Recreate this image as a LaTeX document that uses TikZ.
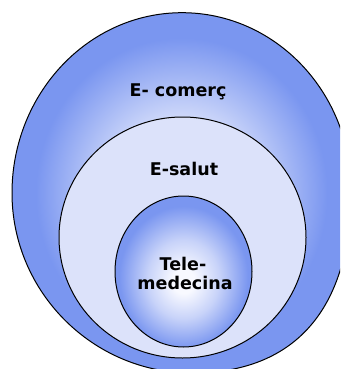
\documentclass[tikz,border=0pt]{standalone}
\usepackage{fontspec}
\setmainfont{DejaVu Sans}
\definecolor{ringblue}{RGB}{122,150,240}
\definecolor{midfill}{RGB}{220,226,250}
\definecolor{oc0}{RGB}{238,241,254}
\definecolor{oc1}{RGB}{210,219,250}
\definecolor{ic0}{RGB}{248,249,255}
\definecolor{ic1}{RGB}{200,211,249}
\pgfdeclareradialshading{outershade}{\pgfpoint{0bp}{0bp}}{color(0bp)=(oc0); color(10bp)=(oc1); color(21.5bp)=(ringblue); color(50bp)=(ringblue)}
\pgfdeclareradialshading{innershade}{\pgfpoint{0bp}{-3.5bp}}{color(0bp)=(ic0); color(4bp)=(ic0); color(13bp)=(ic1); color(23.5bp)=(ringblue); color(50bp)=(ringblue)}
\tikzset{
  ring/.style={draw=black, line width=1pt},
  lbl/.style={font=\bfseries\fontsize{17.5}{19}\selectfont, text=black, inner sep=0pt, anchor=base}
}
\begin{document}
\begin{tikzpicture}[x=1pt,y=-1pt]
\useasboundingbox (0,0) rectangle (340,369);
\clip (0,0) rectangle (340,369);
% outer region
\shadedraw[ring, shading=outershade]
  (182,12.7) .. controls (275,12.7) and (351,92) .. (351,190)
  .. controls (351,309) and (295,373) .. (192,373)
  .. controls (93,373) and (12,292) .. (12,193)
  .. controls (12,94) and (88,12.7) .. (182,12.7) -- cycle;
% middle region
\filldraw[ring, fill=midfill] (182.5,237.5) ellipse [x radius=123.5, y radius=120.5];
% inner region
\shadedraw[ring, shading=innershade] (183.5,271.5) ellipse [x radius=68.5, y radius=75.5];
% labels
\node[lbl] (ecom) at (178,96) {E- comerç};
\node[lbl] (esal) at (184,175) {E-salut};
\node[lbl] (tele) at (183,270) {Tele-};
\node[lbl] (med) at (185,289) {medecina};
\end{tikzpicture}
\end{document}
